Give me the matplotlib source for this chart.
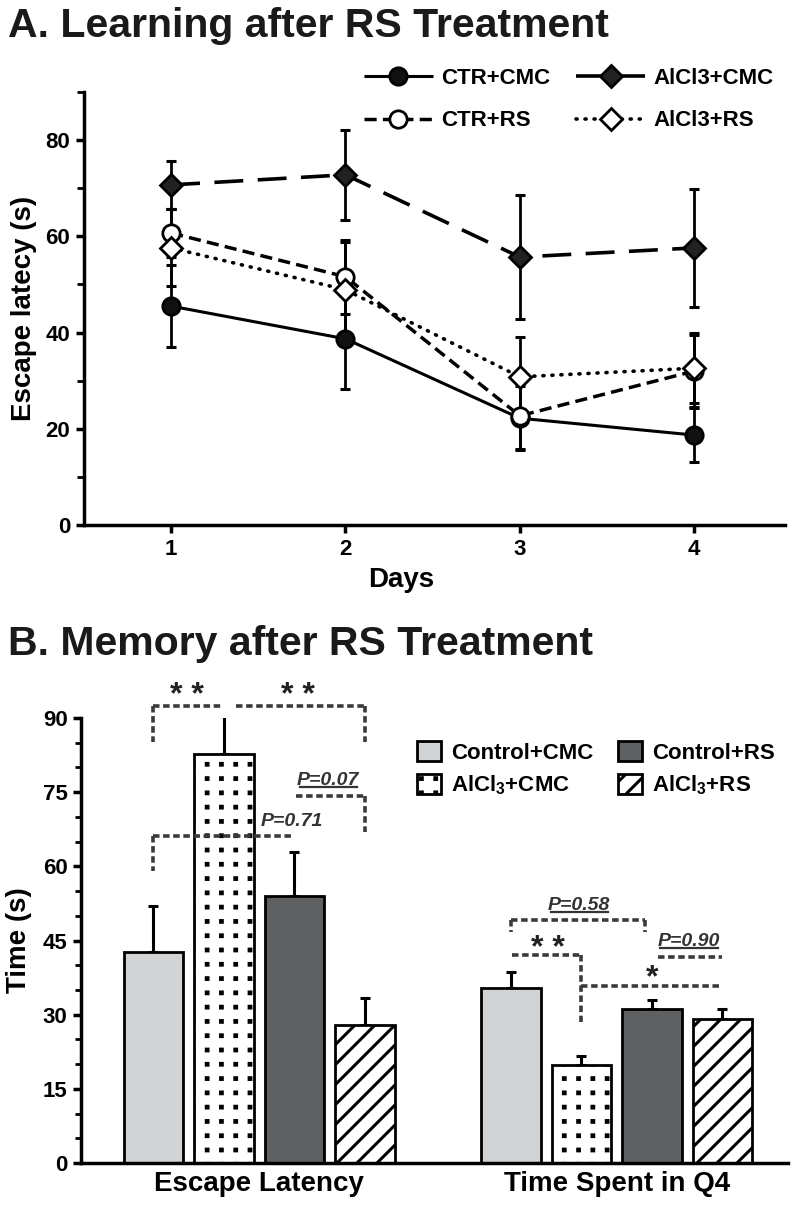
import numpy as np
import matplotlib
matplotlib.use("Agg")
import matplotlib.pyplot as plt
import matplotlib.hatch as mhatch
from matplotlib.path import Path

plt.rcParams['font.family'] = ['Liberation Sans', 'DejaVu Sans']
plt.rcParams['font.weight'] = 'bold'
plt.rcParams['mathtext.fontset'] = 'custom'
plt.rcParams['mathtext.rm'] = 'Liberation Sans:bold'
plt.rcParams['mathtext.bf'] = 'Liberation Sans:bold'
plt.rcParams['mathtext.it'] = 'Liberation Sans:italic:bold'
plt.rcParams['hatch.linewidth'] = 2.2


# square dot grid for '.' and a '/' spacing closer to the original figure
class GridDots(mhatch.HatchPatternBase):
    def __init__(self, hatch, density):
        self.n = hatch.count('.') * 7
        self.num_vertices = self.n * self.n * 5

    def set_vertices_and_codes(self, vertices, codes):
        n = self.n
        h = 0.06 / n
        k = 0
        for i in range(n):
            for j in range(n):
                cx, cy = (i + 0.5) / n, (j + 0.5) / n
                vertices[k:k + 5] = [[cx - h, cy - h], [cx + h, cy - h],
                                     [cx + h, cy + h], [cx - h, cy + h],
                                     [cx - h, cy - h]]
                codes[k:k + 5] = [Path.MOVETO, Path.LINETO, Path.LINETO,
                                  Path.LINETO, Path.CLOSEPOLY]
                k += 5


class NorthEast10(mhatch.NorthEastHatch):
    def __init__(self, hatch, density):
        self.num_lines = int((hatch.count('/') + hatch.count('x') + hatch.count('X')) * 10)
        self.num_vertices = (self.num_lines + 1) * 2 if self.num_lines else 0


mhatch._hatch_types[:] = [NorthEast10 if t is mhatch.NorthEastHatch else
                          GridDots if t is mhatch.SmallFilledCircles else t
                          for t in mhatch._hatch_types]

# ---- A: learning curves ----
days = [1, 2, 3, 4]
ctr_cmc = [45.5, 38.7, 22.2, 18.7]
ctr_cmc_err = [8.5, 10.4, 6.6, 5.6]
ctr_rs = [60.7, 51.6, 22.7, 32.0]
ctr_rs_err = [5.0, 7.7, 7.0, 7.5]
alcl3_cmc = [70.7, 72.8, 55.7, 57.6]
alcl3_cmc_err = [5.0, 9.3, 12.8, 12.3]
alcl3_rs = [57.6, 48.9, 30.8, 32.6]
alcl3_rs_err = [8.0, 10.0, 8.3, 7.3]

# ---- B: probe test ----
groups = ['Escape Latency', 'Time Spent in Q4']
bar_names = ['Control+CMC', 'AlCl$_3$+CMC', 'Control+RS', 'AlCl$_3$+RS']
escape_latency = [42.6, 82.7, 54.0, 28.0]
escape_latency_err = [9.3, 7.7, 8.8, 5.4]
time_q4 = [35.4, 19.9, 31.2, 29.2]
time_q4_err = [3.3, 1.7, 1.8, 2.0]

fig = plt.figure(figsize=(8, 12.19), dpi=100)

# ================= panel A =================
axA = fig.add_axes([0.105, 0.5693, 0.876, 0.3552])
series = [
    ('CTR+CMC', ctr_cmc, ctr_cmc_err, 'o', '#111111', (None, None), 2.2),
    ('CTR+RS', ctr_rs, ctr_rs_err, 'o', 'white', (3.5, 1.8), 2.5),
    ('AlCl3+CMC', alcl3_cmc, alcl3_cmc_err, 'D', '#222222', (8, 4), 2.6),
    ('AlCl3+RS', alcl3_rs, alcl3_rs_err, 'D', 'white', (0.3, 2.2), 2.6),
]
handles = []
for name, vals, err, mk, fc, dash, lw in series:
    axA.errorbar(days, vals, yerr=err, fmt='none', ecolor='black',
                 elinewidth=2, capsize=3.6, capthick=2.2, zorder=2)
    ms = 12.5 if mk == 'o' else 11.5
    ln, = axA.plot(days, vals, color='black', lw=lw, marker=mk, ms=ms,
                   mfc=fc, mec='black', mew=2, zorder=3, label=name,
                   solid_capstyle='butt')
    if dash[0] is not None:
        ln.set_dashes(dash)
        if dash[0] < 1:
            ln.set_dash_capstyle('round')
    handles.append(ln)

axA.set_xlim(0.5, 4.52)
axA.set_ylim(0, 90)
axA.set_xticks(days)
axA.set_yticks([0, 20, 40, 60, 80])
axA.set_yticks([10, 30, 50, 70, 90], minor=True)
for s in ['top', 'right']:
    axA.spines[s].set_visible(False)
for s in ['left', 'bottom']:
    axA.spines[s].set_linewidth(2.5)
axA.tick_params(axis='both', which='major', direction='out', length=6, width=2.5,
                labelsize=16, pad=4)
axA.tick_params(axis='y', which='minor', direction='out', length=5, width=2)
axA.set_ylabel('Escape latecy (s)', fontsize=20, fontweight='bold', labelpad=6)
axA.set_xlabel('Days', fontsize=20, fontweight='bold')
axA.xaxis.set_label_coords(0.452, -0.098)

axA.legend(handles=handles, loc='upper left', bbox_to_anchor=(0.455, 0.944),
           bbox_transform=fig.transFigure, ncol=2, frameon=False,
           handlelength=3.1, handletextpad=0.35, columnspacing=1.2,
           labelspacing=0.95, borderpad=0, borderaxespad=0,
           prop={'weight': 'bold', 'size': 16})

fig.text(0.01, 1 - 37 / 1219, 'A. Learning after RS Treatment', fontsize=29.5,
         fontweight='bold', va='baseline', ha='left', color='#1a1a1a')

# ================= panel B =================
axB = fig.add_axes([0.101, 0.0459, 0.884, 0.3651])
offsets = [0.0, 5.07]
colors = ['#d1d3d4', 'white', '#5f6062', 'white']
hatches = [None, '.', None, '/']
width = 0.84
groups_vals = [escape_latency, time_q4]
groups_errs = [escape_latency_err, time_q4_err]
bar_handles = []
for i, name in enumerate(bar_names):
    xs = [offsets[g] + i for g in range(len(groups))]
    hs = [groups_vals[g][i] for g in range(len(groups))]
    es = [groups_errs[g][i] for g in range(len(groups))]
    bc = axB.bar(xs, hs, width=width, color=colors[i], edgecolor='black', lw=2,
                 hatch=hatches[i], label=name, zorder=2)
    bar_handles.append(bc)
    axB.errorbar(xs, hs, yerr=[np.zeros(len(es)), es], fmt='none',
                 ecolor='black', elinewidth=2.2, capsize=3.5, capthick=2.2,
                 zorder=1)

axB.set_xlim(-1.03, 9.0)
axB.set_ylim(0, 90)
axB.set_yticks(np.arange(0, 91, 15))
axB.set_yticks(np.arange(0, 91, 5), minor=True)
axB.set_xticks([offsets[0] + 1.5, offsets[1] + 1.5])
axB.set_xticklabels(groups, fontsize=20, fontweight='bold')
for s in ['top', 'right']:
    axB.spines[s].set_visible(False)
for s in ['left', 'bottom']:
    axB.spines[s].set_linewidth(2.5)
axB.tick_params(axis='y', which='major', direction='out', length=6, width=2.5,
                labelsize=16)
axB.tick_params(axis='y', which='minor', direction='out', length=4, width=2)
axB.tick_params(axis='x', length=0, pad=6)
axB.set_ylabel('Time (s)', fontsize=20, fontweight='bold', labelpad=8)

axB.legend(handles=bar_handles, loc='upper left', bbox_to_anchor=(0.521, 0.392),
           bbox_transform=fig.transFigure, ncol=2, frameon=False,
           handlelength=1.1, handleheight=1.0, handletextpad=0.45,
           columnspacing=1.1, labelspacing=0.45, borderpad=0, borderaxespad=0,
           prop={'weight': 'bold', 'size': 16})

fig.text(0.01, 1 - 655 / 1219, 'B. Memory after RS Treatment', fontsize=29.5,
         fontweight='bold', va='baseline', ha='left', color='#1a1a1a')

# significance brackets: (group, x0, x1, y, left drop, right drop)
brackets = [
    (0, 0.0, 0.98, 92.4, 85.1, None),
    (0, 1.17, 3.0, 92.4, None, 85.1),
    (0, 0.0, 2.0, 66.2, 59.1, None),
    (0, 2.02, 3.0, 74.2, None, 66.9),
    (1, 0.0, 1.9, 49.2, 46.8, 46.8),
    (1, 0.02, 1.0, 42.0, None, 28.5),
    (1, 1.0, 3.0, 35.8, None, None),
    (1, 2.08, 3.0, 41.7, None, None),
]
dash_col = '#3a3a3a'
for g, x0, x1, y, dl, dr in brackets:
    xa, xb = offsets[g] + x0, offsets[g] + x1
    kw = dict(color=dash_col, lw=2.6, ls=(0, (1.8, 1.0)), clip_on=False, zorder=4)
    axB.plot([xa, xb], [y, y], **kw)
    if dl is not None:
        axB.plot([xa, xa], [y, dl], **kw)
    if dr is not None:
        axB.plot([xb, xb], [y, dr], **kw)

stars = [(0, 0.48, 91.4, '* *'), (0, 2.05, 91.4, '* *'),
         (1, 0.52, 40.2, '* *'), (1, 2.0, 34.4, '*')]
for g, x, y, s in stars:
    axB.text(offsets[g] + x, y, s, fontsize=23, fontweight='bold',
             ha='center', va='bottom', color='#222222', clip_on=False)

pvals = [(0, 1.96, 67.3, 'P=0.71'), (0, 2.48, 75.6, 'P=0.07'),
         (1, 0.97, 50.4, 'P=0.58'), (1, 2.52, 43.0, 'P=0.90')]
ptexts = []
for g, x, y, s in pvals:
    t = axB.text(offsets[g] + x, y, s, fontsize=14, fontweight='bold',
                 fontstyle='italic', ha='center', va='bottom', color='#333333',
                 clip_on=False)
    ptexts.append((t, s))

fig.canvas.draw()
inv = axB.transData.inverted()
for t, s in ptexts:
    if s == 'P=0.71':
        continue
    bb = t.get_window_extent()
    (ax0, ay0), (ax1, _) = inv.transform([[bb.x0 + 3, bb.y0 + 2], [bb.x1 - 2, bb.y0 + 2]])
    axB.plot([ax0, ax1], [ay0, ay0], color='#333333', lw=1.6, clip_on=False)

fig.savefig('out.png', dpi=100)
